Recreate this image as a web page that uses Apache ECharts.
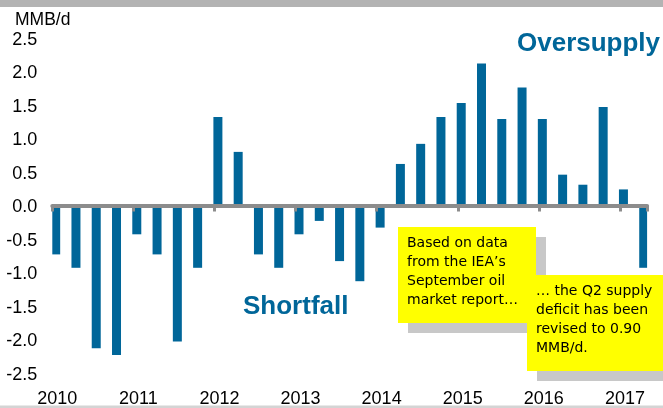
<!DOCTYPE html>
<html>
<head>
<meta charset="utf-8">
<script src="https://cdn.jsdelivr.net/npm/echarts@6/dist/echarts.min.js"></script>
<style>
  html, body { margin: 0; padding: 0; background: #fff; }
  #main { width: 663px; height: 408px; }
</style>
</head>
<body>
<div id="main"></div>
<script>
// quarterly supply/demand balance, MMB/d
const quarters = [
  "2010Q1", "2010Q2", "2010Q3", "2010Q4",
  "2011Q1", "2011Q2", "2011Q3", "2011Q4",
  "2012Q1", "2012Q2", "2012Q3", "2012Q4",
  "2013Q1", "2013Q2", "2013Q3", "2013Q4",
  "2014Q1", "2014Q2", "2014Q3", "2014Q4",
  "2015Q1", "2015Q2", "2015Q3", "2015Q4",
  "2016Q1", "2016Q2", "2016Q3", "2016Q4",
  "2017Q1", "2017Q2",
];
const balance = [
  -0.7, -0.9, -2.1, -2.2,
  -0.4, -0.7, -2.0, -0.9,
  1.35, 0.83, -0.7, -0.9,
  -0.4, -0.2, -0.8, -1.1,
  -0.3, 0.65, 0.95, 1.35,
  1.56, 2.15, 1.32, 1.79,
  1.32, 0.49, 0.34, 1.5,
  0.27, -0.9,
];
const yearLabels = ["2010", "2011", "2012", "2013", "2014", "2015", "2016", "2017"];
const yTicks = [-2.5, 2.5, 0.5]; // min, max, step
const note1 = ["Based on data", "from the IEA\u2019s", "September oil", "market report\u2026"];
const note2 = ["\u2026 the Q2 supply", "deficit has been", "revised to 0.90", "MMB/d."];

// the axis runs by month (Excel date axis), bars sit on the first month of each quarter
const months = [];
yearLabels.forEach((y) => {
  for (let m = 1; m <= 12; m++) {
    if (y === "2017" && m > 4) break;
    months.push(y + "-" + (m < 10 ? "0" + m : m));
  }
});
const monthData = months.map(() => null);
quarters.forEach((q, i) => {
  const y = q.slice(0, 4);
  const n = parseInt(q.slice(5), 10);
  const idx = months.indexOf(y + "-" + ["01", "04", "07", "10"][n - 1]);
  monthData[idx] = balance[i];
});

const blue = "#006699";
const txtFont = "'Liberation Sans', Arial, sans-serif";
const noteFont = "'DejaVu Sans', sans-serif";

function noteBox(x, y, w, h, lines, z) {
  return [
    { type: "rect", z: z, shape: { x: x + 10, y: y + 10, width: w, height: h }, style: { fill: "#C8C8C8" } },
    { type: "rect", z: z + 1, shape: { x: x, y: y, width: w, height: h }, style: { fill: "#FFFF00" } },
    {
      type: "text", z: z + 2, x: x + 9, y: y + 7,
      style: { text: lines.join("\n"), font: "14px " + noteFont, fill: "#000", lineHeight: 19 },
    },
  ];
}

const chart = echarts.init(document.getElementById("main"));
const option = {
  animation: false,
  backgroundColor: "#fff",
  grid: { left: 52.3, right: 15.9, top: 40, bottom: 33 },
  xAxis: [
    {
      // zero line with year ticks, drawn a touch above the zero point like the original
      type: "category",
      data: months,
      position: "bottom",
      offset: -169.5,
      boundaryGap: true,
      z: 10,
      axisLine: { onZero: false, lineStyle: { color: "#8C8C8C", width: 4 } },
      axisTick: {
        show: true,
        interval: (i) => i % 12 === 0,
        length: 6,
        lineStyle: { color: "#8C8C8C", width: 3 },
      },
      axisLabel: { show: false },
      splitLine: { show: false },
    },
    {
      type: "category",
      data: months,
      position: "bottom",
      boundaryGap: true,
      axisLine: { show: false, onZero: false },
      axisTick: { show: false },
      axisLabel: {
        interval: (i) => i % 12 === 0,
        formatter: (v) => v.slice(0, 4),
        fontFamily: txtFont,
        fontSize: 18,
        color: "#000",
        margin: 15,
        padding: [0, 0, 0, 3],
      },
      splitLine: { show: false },
    },
  ],
  yAxis: {
    type: "value",
    min: yTicks[0],
    max: yTicks[1],
    interval: yTicks[2],
    axisLine: { show: false },
    axisTick: { show: false },
    splitLine: { show: false },
    axisLabel: {
      formatter: (v) => v.toFixed(1),
      fontFamily: txtFont,
      fontSize: 18,
      color: "#000",
      margin: 15,
      padding: [2, 0, 0, 0],
    },
  },
  graphic: [
    { type: "rect", z: 100, shape: { x: 0, y: 0, width: 663, height: 7 }, style: { fill: "#B3B3B3" } },
    { type: "rect", z: 100, shape: { x: 0, y: 405.5, width: 663, height: 3 }, style: { fill: "#D4D4D4" } },
    {
      type: "text", z: 100, x: 15, y: 20,
      style: { text: "MMB/d", font: "17.5px " + txtFont, fill: "#000", verticalAlign: "middle" },
    },
    {
      type: "text", z: 100, x: 517, y: 44,
      style: { text: "Oversupply", font: "bold 26px " + txtFont, fill: blue, verticalAlign: "middle" },
    },
    {
      type: "text", z: 100, x: 243, y: 307,
      style: { text: "Shortfall", font: "bold 26px " + txtFont, fill: blue, verticalAlign: "middle" },
    },
    ...noteBox(398, 227, 138, 96, note1, 110),
    ...noteBox(527, 275, 140, 96, note2, 120),
  ],
  series: [
    {
      type: "bar",
      xAxisIndex: 0,
      data: monthData,
      barWidth: 9,
      itemStyle: { color: blue },
    },
  ],
};
chart.setOption(option);
</script>
</body>
</html>
